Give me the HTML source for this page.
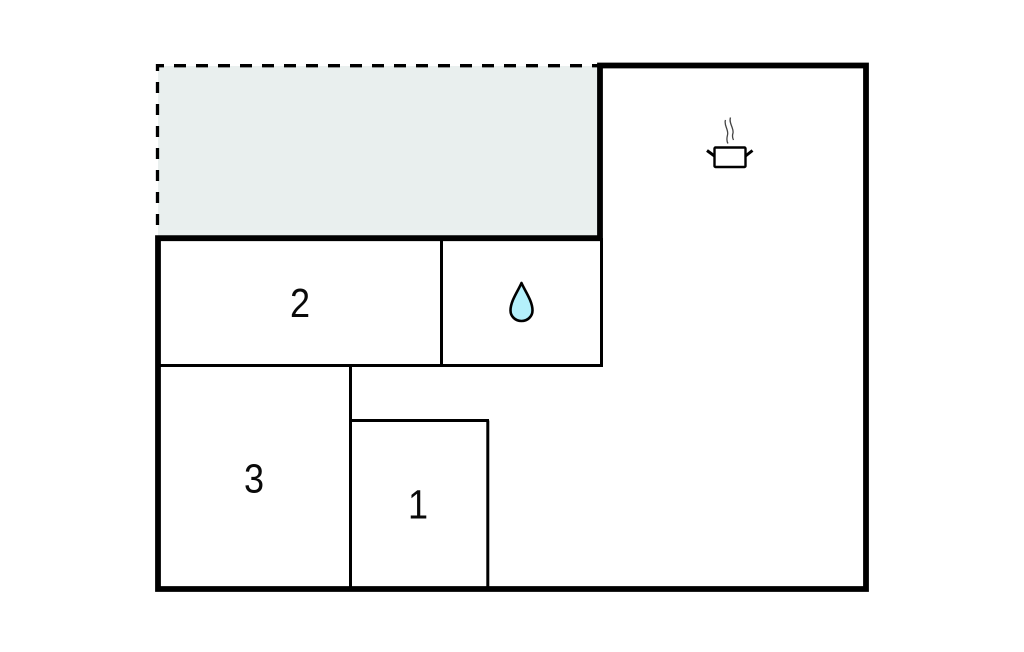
<!DOCTYPE html>
<html>
<head>
<meta charset="utf-8">
<style>
html,body{margin:0;padding:0;background:#fff}
svg{display:block}
text{font-family:"Liberation Sans",sans-serif;font-size:41px;fill:#0a0a0a;text-anchor:middle}
</style>
</head>
<body>
<svg width="1024" height="652" viewBox="0 0 1024 652" xmlns="http://www.w3.org/2000/svg">
<rect x="158" y="66" width="442" height="172" fill="#e9efee"/>
<path d="M157 65.700H598" fill="none" stroke="#000" stroke-width="3.300" stroke-dasharray="12 10" stroke-dashoffset="5"/>
<path d="M157.500 64V236" fill="none" stroke="#000" stroke-width="3.300" stroke-dasharray="11 11" stroke-dashoffset="4"/>
<g fill="none" stroke="#000" stroke-width="3">
<path d="M441.500 238V367"/>
<path d="M601.500 238V367"/>
<path d="M158 365.500H603"/>
<path d="M350.500 365.500V589"/>
<path d="M350.500 420.500H489"/>
<path d="M487.800 420.500V589"/>
</g>
<path d="M158 589V238.200H600V65.500H866V589Z" fill="none" stroke="#000" stroke-width="5.800" stroke-linejoin="miter"/>
<text transform="translate(300 317) scale(.88 1)">2</text>
<text transform="translate(254 492.500) scale(.88 1)">3</text>
<text transform="translate(418 518.500) scale(.88 1)">1</text>
<path d="M521.500 283C518 291 510.500 301 510.500 310.500C510.500 316.500 515.500 321 521.500 321C527.500 321 532.500 316.500 532.500 310.500C532.500 301 525 291 521.500 283Z" fill="#b4f0fb" stroke="#000" stroke-width="2.600" stroke-linejoin="round"/>
<rect x="714.500" y="147.500" width="31" height="19.500" rx="1" fill="#fff" stroke="#000" stroke-width="2.400"/>
<path d="M707 150.500L714.500 156M752.500 150.500L745.500 156" fill="none" stroke="#000" stroke-width="3"/>
<path d="M725.500 120C723.500 125 729 130 727.500 135C726.500 139 727 142 728 143.500M730.500 117.500C728.500 123 734 128 733 133C732 136 732.500 138 733.500 140" fill="none" stroke="#444" stroke-width="1.300"/>
</svg>
</body>
</html>
